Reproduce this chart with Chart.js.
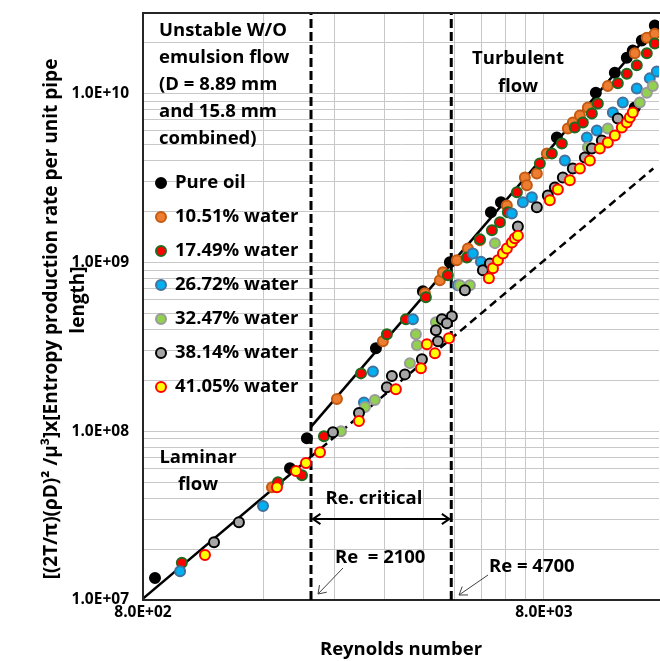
<!DOCTYPE html>
<html>
<head>
<meta charset="utf-8">
<script src="https://cdn.jsdelivr.net/npm/chart.js@4.4.1/dist/chart.umd.min.js"></script>
<style>
  html, body { margin: 0; padding: 0; background: #fff; }
  #wrap { width: 660px; height: 661px; }
</style>
</head>
<body>
<div id="wrap"><canvas id="entropy-chart" width="660" height="661"></canvas></div>
<script>
// Reynolds number (x) and scaled entropy production rate (y)

const seriesNames = ['Pure oil', '10.51% water', '17.49% water', '26.72% water',
  '32.47% water', '38.14% water', '41.05% water'];

const pureOilRe = [857, 1861, 2051, 3049, 3993, 4663, 5902, 6252, 8620, 10784, 12027, 12883, 13333, 14041, 15133, 13488];
const pureOilS = [1.35e7, 6.04e7, 9.09e7, 3.10e8, 6.74e8, 1.0e9, 1.98e9, 2.27e9, 5.49e9, 1.01e10, 1.33e10, 1.63e10, 1.80e10, 2.06e10, 2.53e10, 8.27e9];

const w1051Re = [1678, 2437, 3173, 4039, 4403, 4479, 4854, 5171, 5540, 6468, 7173, 7256, 7684, 8139, 9182, 9448, 9839, 10301, 11552, 13488, 14452, 15133];
const w1051S = [4.66e7, 1.55e8, 3.41e8, 6.56e8, 7.83e8, 8.73e8, 1.03e9, 1.21e9, 1.35e9, 2.17e9, 3.18e9, 2.86e9, 3.36e9, 4.42e9, 6.21e9, 6.73e9, 7.41e9, 8.27e9, 1.11e10, 1.73e10, 2.14e10, 2.26e10];

const w1749Re = [1000, 1737, 1994, 2262, 2798, 3247, 3622, 4062, 4609, 5141, 5540, 5936, 6216, 6505, 6852, 7818, 8375, 8871, 9557, 10010, 10540, 10909, 12235, 12883, 13644, 14452, 15133];
const w1749S = [1.66e7, 4.99e7, 5.49e7, 9.34e7, 2.20e8, 3.75e8, 4.60e8, 6.21e8, 8.38e8, 1.07e9, 1.37e9, 1.55e9, 1.73e9, 1.98e9, 2.60e9, 3.85e9, 4.42e9, 5.06e9, 6.29e9, 6.73e9, 7.62e9, 8.73e9, 1.15e10, 1.31e10, 1.47e10, 1.73e10, 1.98e10];

const w2672Re = [990, 1594, 2846, 2997, 3771, 4882, 5322, 5572, 6657, 7090, 7468, 9025, 10242, 10846, 11889, 12590, 13644, 14700, 15308];
const w2672S = [1.48e7, 3.60e7, 1.48e8, 2.26e8, 4.60e8, 7.31e8, 1.13e9, 1.01e9, 1.95e9, 2.27e9, 2.43e9, 4.01e9, 5.49e9, 6.04e9, 7.72e9, 8.85e9, 1.07e10, 1.23e10, 1.35e10];

const w3247Re = [2494, 2863, 3031, 3706, 3836, 3860, 4303, 4939, 5231, 6040, 10301, 11552, 13881, 14452, 14959];
const w3247S = [1.0e8, 1.39e8, 1.53e8, 2.53e8, 3.75e8, 3.23e8, 4.42e8, 7.31e8, 7.31e8, 1.30e9, 4.79e9, 6.21e9, 8.85e9, 1.01e10, 1.11e10];

const w3814Re = [1203, 1388, 2382, 2766, 3247, 3342, 3601, 3971, 4353, 4303, 4454, 4717, 4583, 5083, 5637, 5868, 6891, 7684, 8186, 8521, 8922, 9448, 10125, 10540, 11162, 12235];
const w3814S = [2.20e7, 2.89e7, 9.86e7, 1.28e8, 1.82e8, 2.12e8, 2.17e8, 2.67e8, 3.41e8, 3.96e8, 4.60e8, 4.79e8, 4.36e8, 6.83e8, 8.97e8, 9.86e8, 1.63e9, 2.12e9, 2.49e9, 2.78e9, 3.18e9, 3.60e9, 4.18e9, 4.73e9, 5.27e9, 7.11e9];

const w4105Re = [1142, 1727, 1926, 2040, 2211, 2766, 3419, 3948, 4086, 4279, 4636, 5834, 5971, 6145, 6324, 6468, 6657, 6774, 6891, 8279, 8670, 9287, 9839, 10420, 11035, 11552, 12027, 12518, 12883, 13107, 13333];
const w4105S = [1.85e7, 4.66e7, 5.80e7, 6.47e7, 7.51e7, 1.15e8, 1.77e8, 2.36e8, 3.27e8, 2.89e8, 3.55e8, 8.04e8, 9.22e8, 1.03e9, 1.13e9, 1.21e9, 1.31e9, 1.39e9, 1.44e9, 2.33e9, 2.70e9, 3.06e9, 3.60e9, 4.01e9, 4.73e9, 5.13e9, 5.64e9, 6.29e9, 6.73e9, 7.21e9, 7.72e9];

// reference lines (end points)
const laminarRe = [800, 2100];
const laminarS = [1.02e7, 7.06e7];
const laminarExtRe = [2100, 15000];
const laminarExtS = [7.06e7, 3.6e9];
const turbulentRe = [2100, 15500];
const turbulentS = [1.06e8, 2.64e10];
const criticalRe = [2100, 4700];

// axes
const xGridRe = [800, 1600, 2400, 3200, 4000, 4800, 5600, 6400, 7200, 8000];
const xTickLabels = [800, 8000];
const yGridS = [1e7, 2e7, 3e7, 4e7, 5e7, 6e7, 7e7, 8e7, 9e7,
  1e8, 2e8, 3e8, 4e8, 5e8, 6e8, 7e8, 8e8, 9e8,
  1e9, 2e9, 3e9, 4e9, 5e9, 6e9, 7e9, 8e9, 9e9,
  1e10, 2e10, 3e10];
const yTickLabels = [1e7, 1e8, 1e9, 1e10];

const FONT = '"Open Sans", "DejaVu Sans", sans-serif';
const TEXT = 'bold 18.5px ' + FONT;

function pts(xs, ys) {
  return xs.map((v, i) => ({ x: v, y: ys[i] }));
}

function sci(v) {
  const e = Math.floor(Math.log10(v) + 1e-9);
  const m = v / Math.pow(10, e);
  return m.toFixed(1) + 'E+' + String(e).padStart(2, '0');
}

const markerFill = ['#000000', '#ed7d31', '#ff0000', '#00b0f0', '#92d050', '#a6a6a6', '#ffff00'];
const markerEdge = ['#000000', '#c55a11', '#1f6b1f', '#41719c', '#9a9a9a', '#000000', '#ff0000'];
const seriesRe = [pureOilRe, w1051Re, w1749Re, w2672Re, w3247Re, w3814Re, w4105Re];
const seriesS = [pureOilS, w1051S, w1749S, w2672S, w3247S, w3814S, w4105S];

const datasets = seriesNames.map((name, i) => ({
  label: name,
  data: pts(seriesRe[i], seriesS[i]),
  backgroundColor: markerFill[i],
  borderColor: markerEdge[i],
  borderWidth: 2,
  pointRadius: 5,
  showLine: false,
  order: 7 - i
}));

function refLine(xs, ys, dash, width) {
  return {
    label: '',
    data: pts(xs, ys),
    showLine: true,
    borderColor: '#000',
    borderWidth: width,
    borderDash: dash,
    pointRadius: 0,
    order: 20
  };
}

datasets.push(refLine(laminarRe, laminarS, [], 2.5));
datasets.push(refLine(laminarExtRe, laminarExtS, [8, 5], 2.5));
datasets.push(refLine(turbulentRe, turbulentS, [], 2.5));
criticalRe.forEach(re => {
  datasets.push(refLine([re, re], [1e7, 3e10], [9, 4], 3));
});

function arrowHead(ctx, x, y, ang, size) {
  ctx.beginPath();
  ctx.moveTo(x + size * Math.cos(ang + 0.6), y + size * Math.sin(ang + 0.6));
  ctx.lineTo(x, y);
  ctx.lineTo(x + size * Math.cos(ang - 0.6), y + size * Math.sin(ang - 0.6));
  ctx.stroke();
}

const overlay = {
  id: 'overlay',
  afterDatasetsDraw(chart) {
    const { ctx, chartArea: a, scales } = chart;
    const xs = scales.x;
    ctx.save();

    // frame
    ctx.strokeStyle = '#262626';
    ctx.lineWidth = 2;
    ctx.beginPath();
    ctx.moveTo(a.right + 2, a.top);
    ctx.lineTo(a.left, a.top);
    ctx.lineTo(a.left, a.bottom);
    ctx.stroke();

    ctx.fillStyle = '#000';
    ctx.font = TEXT;
    ctx.textBaseline = 'middle';
    ctx.textAlign = 'left';
    ['Unstable W/O', 'emulsion flow', '(D = 8.89 mm', 'and 15.8 mm', 'combined)']
      .forEach((t, i) => ctx.fillText(t, 159, 31 + i * 27));

    // legend
    seriesNames.forEach((name, i) => {
      const y = 183 + i * 34;
      ctx.beginPath();
      ctx.arc(161, y, 5, 0, Math.PI * 2);
      ctx.fillStyle = markerFill[i];
      ctx.fill();
      ctx.lineWidth = 2;
      ctx.strokeStyle = markerEdge[i];
      ctx.stroke();
      ctx.fillStyle = '#000';
      ctx.fillText(name, 175, y);
    });

    ctx.textAlign = 'center';
    ctx.fillText('Turbulent', 518, 59);
    ctx.fillText('flow', 518, 87);
    ctx.fillText('Laminar', 198, 458);
    ctx.fillText('flow', 198, 485);
    ctx.fillText('Re. critical', 374, 499);

    // y axis title
    ctx.font = 'bold 19px ' + FONT;
    ctx.save();
    ctx.translate(52, 319);
    ctx.rotate(-Math.PI / 2);
    ctx.fillText('[(2T/\u03c0)(\u03c1D)\u00b2 /\u00b5\u00b3]x[Entropy production rate per unit pipe', 0, 0);
    ctx.restore();
    ctx.save();
    ctx.translate(79, 300);
    ctx.rotate(-Math.PI / 2);
    ctx.fillText('length]', 0, 0);
    ctx.restore();
    ctx.font = TEXT;

    // Re critical span arrow
    const x1 = xs.getPixelForValue(criticalRe[0]) + 2;
    const x2 = xs.getPixelForValue(criticalRe[1]) - 2;
    ctx.strokeStyle = '#000';
    ctx.lineWidth = 2;
    ctx.beginPath();
    ctx.moveTo(x1, 519);
    ctx.lineTo(x2, 519);
    ctx.stroke();
    arrowHead(ctx, x1, 519, 0, 9);
    arrowHead(ctx, x2, 519, Math.PI, 9);

    ctx.textAlign = 'left';
    ctx.fillText('Re  = 2100', 335, 558);
    ctx.fillText('Re = 4700', 489, 567);

    ctx.strokeStyle = '#404040';
    ctx.lineWidth = 1;
    ctx.beginPath();
    ctx.moveTo(343, 568);
    ctx.lineTo(318, 594);
    ctx.stroke();
    arrowHead(ctx, 318, 594, Math.atan2(568 - 594, 343 - 318), 9);
    ctx.beginPath();
    ctx.moveTo(488, 575);
    ctx.lineTo(459, 595);
    ctx.stroke();
    arrowHead(ctx, 459, 595, Math.atan2(575 - 595, 488 - 459), 9);

    ctx.restore();
  }
};

const tickFont = { family: FONT, size: 15.5, weight: 'bold' };

new Chart(document.getElementById('entropy-chart'), {
  type: 'scatter',
  data: { datasets: datasets },
  options: {
    responsive: false,
    animation: false,
    events: [],
    layout: { autoPadding: false, padding: { top: 13, right: 1, bottom: 0, left: 0 } },
    plugins: {
      legend: { display: false },
      tooltip: { enabled: false }
    },
    scales: {
      x: {
        type: 'logarithmic',
        min: 800,
        max: 15500,
        afterBuildTicks: s => { s.ticks = xGridRe.map(v => ({ value: v })); },
        afterFit: s => { s.height = 61; s.paddingLeft = 0; s.paddingRight = 0; },
        grid: { color: '#c8c8c8', lineWidth: 1, drawTicks: false },
        border: { display: true, color: '#262626', width: 2 },
        ticks: {
          autoSkip: false, maxRotation: 0, padding: 3, color: '#000', font: tickFont,
          callback: v => xTickLabels.includes(v) ? sci(v) : ''
        },
        title: {
          display: true, text: 'Reynolds number', color: '#000',
          font: { family: FONT, size: 18.5, weight: 'bold' },
          padding: { top: 0, bottom: 0 }
        }
      },
      y: {
        type: 'logarithmic',
        min: 1e7,
        max: 3e10,
        afterBuildTicks: s => { s.ticks = yGridS.map(v => ({ value: v })); },
        afterFit: s => { s.width = 143; s.paddingTop = 0; s.paddingBottom = 0; },
        grid: { color: '#c8c8c8', lineWidth: 1, drawTicks: false },
        border: { display: true, color: '#262626', width: 2 },
        ticks: {
          autoSkip: false, padding: 14, color: '#000', font: tickFont,
          callback: v => yTickLabels.includes(v) ? sci(v) : ''
        },
        title: { display: false }
      }
    }
  },
  plugins: [overlay]
});
</script>
</body>
</html>
